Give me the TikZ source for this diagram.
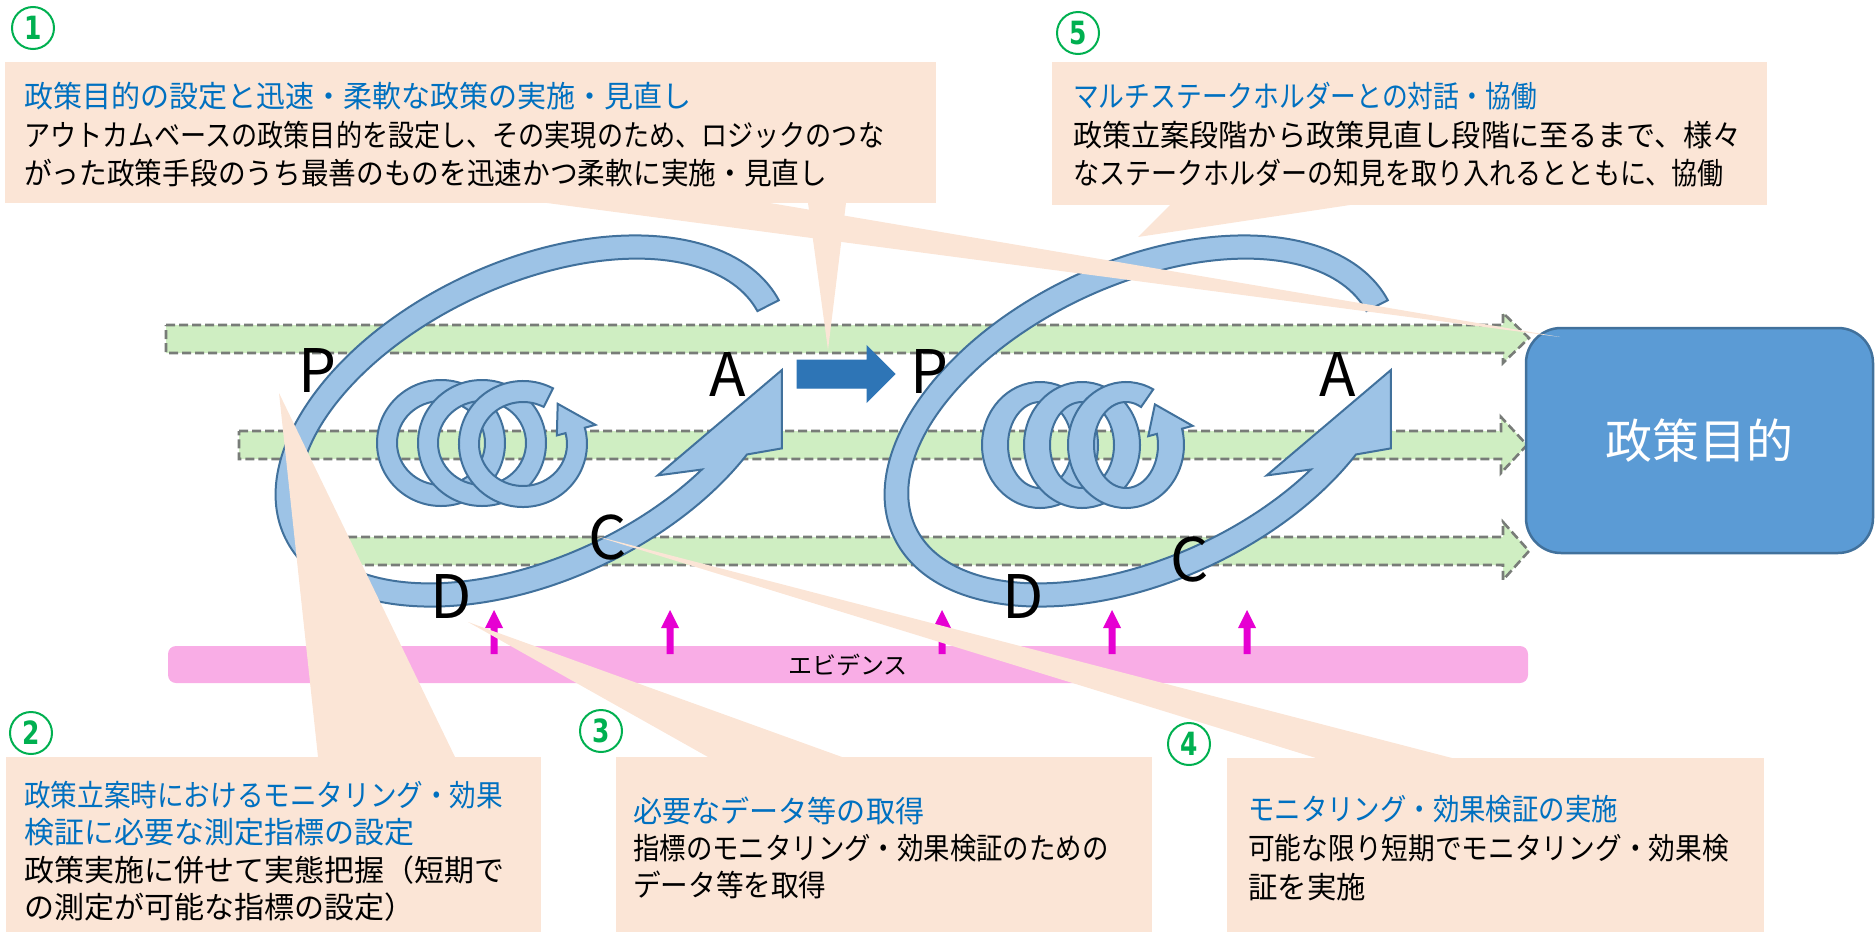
\documentclass[tikz,border=0pt]{standalone}
\usepackage{graphicx}
\usepackage{fontspec}
\setmainfont{Noto Sans CJK JP}
\newfontfamily\numfont{DejaVu Sans}[FakeStretch=0.78]
\definecolor{peach}{RGB}{251,229,214}
\definecolor{titleblue}{RGB}{0,112,192}
\definecolor{ringfill}{RGB}{157,195,230}
\definecolor{ringline}{RGB}{65,113,156}
\definecolor{flowfill}{RGB}{207,238,194}
\definecolor{flowline}{RGB}{120,124,120}
\definecolor{evpink}{RGB}{249,173,230}
\definecolor{evarrow}{RGB}{230,0,210}
\definecolor{goalfill}{RGB}{91,155,213}
\definecolor{goalline}{RGB}{65,113,156}
\definecolor{stepblue}{RGB}{46,117,182}
\definecolor{numgreen}{RGB}{0,176,80}
% one line of callout text, squeezed horizontally by #1
\newcommand{\sline}[2]{\scalebox{#1}[1]{#2}}
\newcommand{\tline}[2]{\scalebox{#1}[1]{\color{titleblue}#2}}
% last turn of a spiral: ring segment ending in an arrow head
\newcommand{\coilend}[6]{%
  \begin{scope}[shift={(#1,#2)}, x=1pt, y=1pt]
    \pgfmathsetmacro{\Ro}{#3+11}\pgfmathsetmacro{\Rp}{#4+11}%
    \pgfmathsetmacro{\ri}{#5-9}\pgfmathsetmacro{\rj}{#6-9}%
    \pgfmathsetmacro{\mx}{(#3+#5)/2}\pgfmathsetmacro{\my}{(#4+#6)/2}%
    \path[ring, line join=miter]
      (62:#3pt and #4pt) arc[start angle=62, end angle=375, x radius=#3pt, y radius=#4pt]
      -- (15:\Ro pt and \Rp pt) -- (50:\mx pt and \my pt) -- (15:\ri pt and \rj pt)
      -- (15:#5pt and #6pt) arc[start angle=375, end angle=62, x radius=#5pt, y radius=#6pt]
      -- cycle;
  \end{scope}}
\tikzset{
  flow/.style={fill=flowfill, draw=flowline, line width=2.6pt, dash pattern=on 9pt off 4pt},
  ring/.style={fill=ringfill, draw=ringline, line width=2pt},
  wedge/.style={fill=peach},
  callbox/.style={fill=peach},
  ctext/.style={anchor=north west, align=left, inner sep=0pt},
  pdca/.style={font=\fontsize{60}{60}\selectfont, inner sep=0pt},
  numc/.style={circle, draw=numgreen, line width=2pt, minimum size=42pt, inner sep=0pt,
    text=numgreen, font=\numfont\bfseries\fontsize{32}{32}\selectfont},
  evarr/.style={fill=evarrow}
}
\begin{document}
\begin{tikzpicture}[x=1pt, y=-1pt]
\useasboundingbox (0,0) rectangle (1875,932);

% flows towards the goal
\path[flow] (166,325) -- (1503,325) -- (1503,313) -- (1529,338) -- (1503,363) -- (1503,353) -- (166,353) -- cycle;
\path[flow] (239,431) -- (1501,431) -- (1501,417) -- (1527,445) -- (1501,473) -- (1501,459) -- (239,459) -- cycle;
\path[flow] (348,537) -- (1503,537) -- (1503,522) -- (1529,551) -- (1503,580) -- (1503,565) -- (348,565) -- cycle;

% two PDCA cycles
\foreach \cx in {533,1142}{
  \begin{scope}[shift={(\cx,421)}, rotate=25, x=1pt, y=1pt]
    \path[ring, line join=miter]
      (2:274pt and 160pt) arc[start angle=2, end angle=311, x radius=274pt, y radius=160pt]
      -- (214,-130) -- (247,-59) -- (90,-102)
      -- (302:250pt and 136pt) arc[start angle=302, end angle=2, x radius=250pt, y radius=136pt]
      -- cycle;
  \end{scope}
}

% small spirals inside the cycles
\foreach \cx in {441,482}
  \path[ring, even odd rule] (\cx,443) ellipse[x radius=64pt, y radius=63pt]
                             (\cx,443) ellipse[x radius=44pt, y radius=42pt];
\coilend{523}{444}{64}{63}{44}{42}
\foreach \cx in {1040,1082}
  \path[ring, even odd rule] (\cx,445) ellipse[x radius=58pt, y radius=63pt]
                             (\cx,445) ellipse[x radius=32pt, y radius=43pt];
\coilend{1126}{445}{58}{63}{32}{43}

% arrow between the cycles
\path[fill=stepblue, draw=stepblue, line width=1pt] (797,360) -- (867,360) -- (867,346) -- (895,374) -- (867,402) -- (867,388) -- (797,388) -- cycle;

% goal
\node[fill=goalfill, draw=goalline, line width=2.5pt, rounded corners=35pt,
      minimum width=347pt, minimum height=225pt, text=white,
      font=\fontsize{47}{47}\selectfont] (goal) at (1699.5,440.5) {政策目的};

% evidence bar and its arrows
\node[fill=evpink, rounded corners=8pt, minimum width=1360pt, minimum height=37pt, inner sep=0pt,
      font=\fontsize{24}{24}\selectfont] (ev) at (848,664.5) {エビデンス};
\foreach \ax in {494,670,942,1112,1247}
  \path[evarr] (\ax,610) -- (\ax+9,628) -- (\ax+3.5,628) -- (\ax+3.5,654) -- (\ax-3.5,654) -- (\ax-3.5,628) -- (\ax-9,628) -- cycle;

% callouts with their pointers
\path[wedge] (547,203) -- (1560,337) -- (770,203) -- cycle;
\path[wedge] (808,203) -- (828,350) -- (846,203) -- cycle;
\path[wedge] (1170,205) -- (1138,237) -- (1350,205) -- cycle;
\path[wedge] (318,757) -- (279,393) -- (455,757) -- cycle;
\path[wedge] (708,757) -- (468,622) -- (842,757) -- cycle;
\path[wedge] (1316,758) -- (592,535) -- (1452,758) -- cycle;
\path[callbox] (5,62) rectangle (936,203);
\path[callbox] (1052,62) rectangle (1767,205);
\path[callbox] (6,757) rectangle (541,932);
\path[callbox] (616,757) rectangle (1152,932);
\path[callbox] (1227,758) rectangle (1764,932);

\node[ctext, font=\fontsize{30}{38.5}\selectfont] (t1) at (24,82)
  {\tline{0.967}{政策目的の設定と迅速・柔軟な政策の実施・見直し}\\
   \sline{0.870}{アウトカムベースの政策目的を設定し、その実現のため、ロジックのつな}\\
   \sline{0.923}{がった政策手段のうち最善のものを迅速かつ柔軟に実施・見直し}};
\node[ctext, font=\fontsize{30}{38.5}\selectfont] (t5) at (1073,82)
  {\tline{0.859}{マルチステークホルダーとの対話・協働}\\
   \sline{0.971}{政策立案段階から政策見直し段階に至るまで、様々}\\
   \sline{0.868}{なステークホルダーの知見を取り入れるとともに、協働}};
\node[ctext, font=\fontsize{30}{37.3}\selectfont] (t2) at (24,781)
  {\tline{0.887}{政策立案時におけるモニタリング・効果}\\
   \tline{1.0}{検証に必要な測定指標の設定}\\
   \sline{1.0}{政策実施に併せて実態把握（短期で}\\
   \sline{1.0}{の測定が可能な指標の設定）}};
\node[ctext, font=\fontsize{30}{37}\selectfont] (t3) at (633,797)
  {\tline{0.97}{必要なデータ等の取得}\\
   \sline{0.88}{指標のモニタリング・効果検証のための}\\
   \sline{0.92}{データ等を取得}};
\node[ctext, font=\fontsize{30}{39}\selectfont] (t4) at (1248,795)
  {\tline{0.88}{モニタリング・効果検証の実施}\\
   \sline{0.89}{可能な限り短期でモニタリング・効果検}\\
   \sline{0.98}{証を実施}};

% circled numbers
\node[numc] (n1) at (33,28) {1};
\node[numc] (n5) at (1078,33) {5};
\node[numc] (n2) at (31,733) {2};
\node[numc] (n3) at (601,731) {3};
\node[numc] (n4) at (1189,744) {4};

% PDCA letters
\node[pdca] (p1) at (317,371) {P};
\node[pdca] (a1) at (728,375) {A};
\node[pdca] (c1) at (608,538) {C};
\node[pdca] (d1) at (451,597) {D};
\node[pdca] (p2) at (929,372) {P};
\node[pdca] (a2) at (1338,375) {A};
\node[pdca] (c2) at (1190,560) {C};
\node[pdca] (d2) at (1023,597) {D};
\end{tikzpicture}
\end{document}
